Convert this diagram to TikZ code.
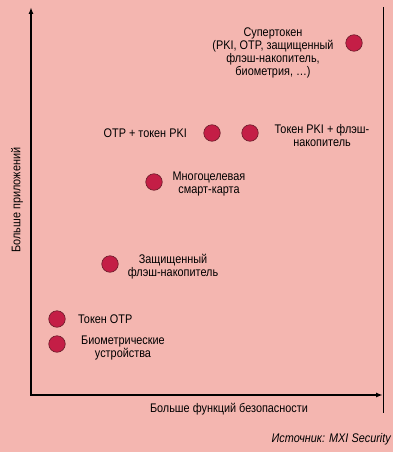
\documentclass[tikz,border=0pt]{standalone}
\usepackage{fontspec}
\setmainfont[FakeStretch=0.87]{Liberation Sans}
\usetikzlibrary{arrows.meta}
\definecolor{bgpink}{HTML}{F4B6B0}
\definecolor{dotred}{HTML}{C41E46}
\definecolor{dotedge}{HTML}{6A1A28}
\begin{document}
\begin{tikzpicture}[x=1pt,y=-1pt,
  dot/.style={circle,fill=dotred,draw=dotedge,line width=0.6pt,minimum size=16.5pt,inner sep=0pt},
  lbl/.style={font=\fontsize{12.5}{13}\selectfont,inner sep=0pt,align=center},
  axis/.style={line width=1.4pt,-{Latex[length=7pt,width=5pt]}}]
\fill[bgpink] (0,0) rectangle (393,452);
\useasboundingbox (0,0) rectangle (393,452);
% axes
\coordinate (o) at (30,395);
\coordinate (ytop) at (31,7);
\coordinate (xend) at (383,395);
\draw[axis] (31,395) -- (ytop);
\draw[axis] (o) -- (xend);
\coordinate (r1) at (383.5,7);
\coordinate (r2) at (383.5,413);
\draw[line width=1.4pt] (r1) -- (r2);
% dots
\node[dot] (super) at (354,43) {};
\node[dot] (otppki) at (212,133) {};
\node[dot] (pkiflash) at (250,133) {};
\node[dot] (smart) at (154,182) {};
\node[dot] (flash) at (110,264) {};
\node[dot] (otp) at (57,319) {};
\node[dot] (bio) at (57,344) {};
% labels
\node[lbl] (tsuper) at (273,52.5) {Супертокен\\(PKI, OTP, защищенный\\флэш-накопитель,\\биометрия, …)};
\node[lbl,anchor=east] (totppki) at (187,133) {OTP + токен PKI};
\node[lbl] (tpkiflash) at (322,135.5) {Токен PKI + флэш-\\накопитель};
\node[lbl] (tsmart) at (209,183.5) {Многоцелевая\\смарт-карта};
\node[lbl] (tflash) at (173,267) {Защищенный\\флэш-накопитель};
\node[lbl,anchor=west] (totp) at (78,319) {Токен OTP};
\node[lbl] (tbio) at (123,348) {Биометрические\\устройства};
\node[lbl] (xlab) at (229,409) {Больше функций безопасности};
\node[lbl,rotate=90] (ylab) at (17,200) {Больше приложений};
\node[lbl,anchor=east,font=\fontsize{12.5}{13}\selectfont\itshape] (src) at (391,439) {Источник: MXI Security};
\end{tikzpicture}
\end{document}
